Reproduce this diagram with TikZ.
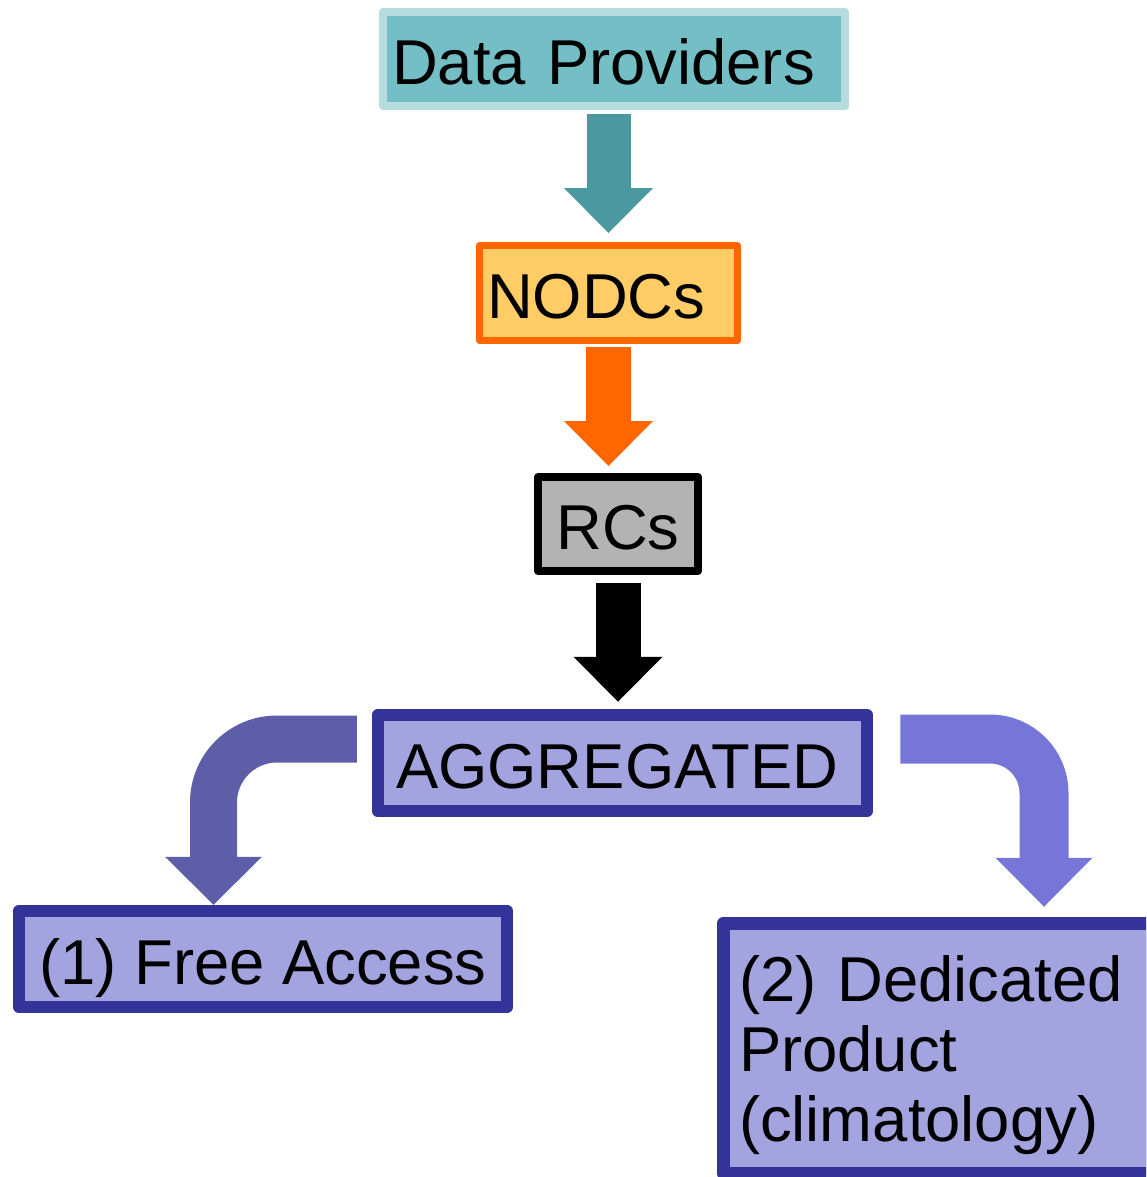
\documentclass[tikz,border=0pt]{standalone}
\usepackage{fontspec}
\setmainfont{Liberation Sans}
\usetikzlibrary{arrows.meta}
\definecolor{dpfill}{HTML}{73BFC5}
\definecolor{dpline}{HTML}{B7DCE0}
\definecolor{dparrow}{HTML}{4A99A0}
\definecolor{nodcfill}{HTML}{FFCC66}
\definecolor{nodcline}{HTML}{FF6600}
\definecolor{rcfill}{HTML}{B3B3B3}
\definecolor{aggfill}{HTML}{A3A3DF}
\definecolor{aggline}{HTML}{333399}
\definecolor{leftflow}{HTML}{5E5EA8}
\definecolor{rightflow}{HTML}{7676D9}

\begin{document}
\begin{tikzpicture}[x=0.5pt,y=-0.5pt,
    stagebox/.style={rectangle,line join=round,inner ysep=2pt,
      font=\fontsize{31.7}{35}\selectfont},
    oneline/.style={text height=25pt,text depth=0pt},
    flow/.style={line width=#1,
      -{Triangle[length=22.5pt,width=44.5pt,line width=0pt]}}]
  \useasboundingbox (0,0) rectangle (1146,1177);
  \clip (0,0) rectangle (1146,1177);
  % boxes
  \node[stagebox,oneline,draw=dpline,fill=dpfill,line width=4pt,inner xsep=4.5pt,
    text width=222pt,align=left,minimum height=47pt] (dp) at (614,59) {Data Providers};
  \node[stagebox,oneline,draw=nodcline,fill=nodcfill,line width=3.5pt,inner xsep=3.75pt,
    text width=121.5pt,align=left,minimum height=47.5pt] (nodc) at (608.5,293) {NODCs};
  \node[stagebox,oneline,draw=black,fill=rcfill,line width=4pt,
    minimum width=80pt,minimum height=47pt] (rc) at (618,524) {RCs};
  \node[stagebox,oneline,draw=aggline,fill=aggfill,line width=6.25pt,inner xsep=9pt,
    text width=226.5pt,align=left,minimum height=48pt] (agg) at (622.5,763) {AGGREGATED};
  \node[stagebox,oneline,draw=aggline,fill=aggfill,line width=6.25pt,
    minimum width=244pt,minimum height=48pt] (free) at (263,959) {(1) Free Access};
  \node[stagebox,draw=aggline,fill=aggfill,line width=6.75pt,inner xsep=7.75pt,
    text width=199pt,align=left,text height=30pt,minimum height=125pt] (ded) at (938,1048.5)
    {(2) Dedicated\\Product\\(climatology)};
  % straight arrows
  \draw[flow=22pt,dparrow,shorten <=2pt,shorten >=4.5pt]
    (dp.south -| nodc.north) -- (nodc.north);
  \draw[flow=22.5pt,nodcline,shorten <=1.5pt,shorten >=3.5pt]
    (nodc.south) -- (nodc.south |- rc.north);
  \draw[flow=22.5pt,black,shorten <=4pt,shorten >=3.5pt]
    (rc.south) -- (rc.south |- agg.north);
  % bent arrows
  \draw[flow=23.5pt,leftflow,rounded corners=31.75pt,
    -{Triangle[length=24pt,width=48.5pt,line width=0pt]}]
    ([xshift=-7.5pt,yshift=12pt]agg.west) -| ([xshift=-24.75pt]free.north);
  \draw[flow=24.5pt,rightflow,rounded corners=27pt,shorten >=5pt,
    -{Triangle[length=24.5pt,width=48.5pt,line width=0pt]}]
    ([xshift=13.5pt,yshift=12pt]agg.east) -| ([xshift=53pt]ded.north);
\end{tikzpicture}
\end{document}
